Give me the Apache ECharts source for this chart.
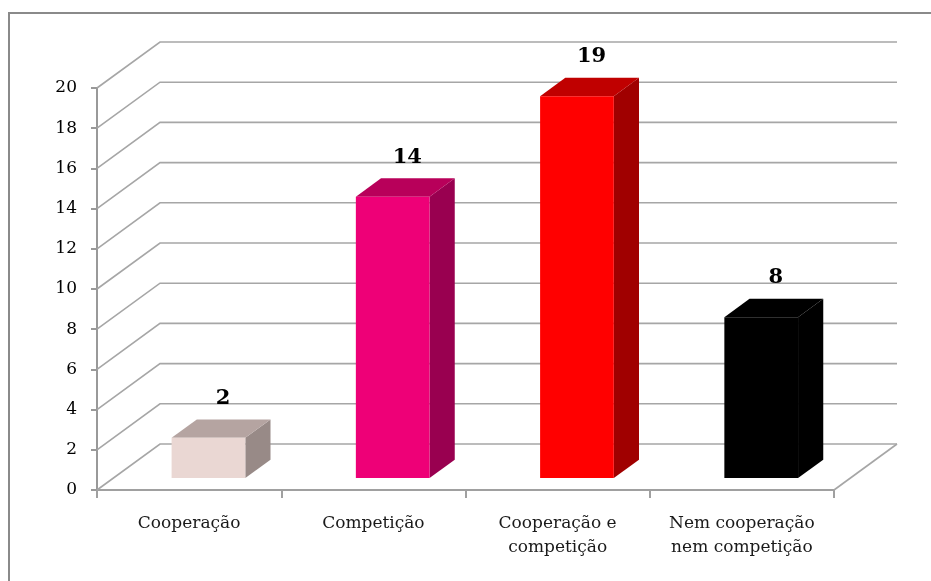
<!DOCTYPE html>
<html>
<head>
<meta charset="utf-8">
<script src="https://cdn.jsdelivr.net/npm/echarts@6/dist/echarts.min.js"></script>
<style>
  html, body { margin: 0; padding: 0; background: #ffffff; }
  #chart { width: 931px; height: 581px; }
</style>
</head>
<body>
<div id="chart"></div>
<script>
// Categories and counts
const categories = ['Cooperação', 'Competição', 'Cooperação e\ncompetição', 'Nem cooperação\nnem competição'];
const values = [2, 14, 19, 8];

// Value axis ticks
const yTicks = [0, 2, 4, 6, 8, 10, 12, 14, 16, 18, 20];

// Face colours for each column: front, top, right side
const frontColors = ['#ead7d3', '#ee0077', '#ff0000', '#000000'];
const topColors = ['#b5a4a1', '#b8005a', '#c00000', '#000000'];
const sideColors = ['#988a87', '#990050', '#a00000', '#000000'];

// Oblique depth vector of the 3D box (pixels) and the depth span of the columns
const DX = 63, DY = -46;
const F1 = 0.26, F2 = 0.66;
const GRID_COLOR = '#a6a6a6';
const FONT = '"DejaVu Serif", "Liberation Serif", serif';

const chart = echarts.init(document.getElementById('chart'), null, { renderer: 'canvas' });

// Back wall lines plus the diagonal joining each one to the front axis
function renderWall(params, api) {
  const cs = params.coordSys;
  const v = api.value(1);
  const y = api.coord([0, v])[1];
  const L = cs.x, R = cs.x + cs.width;
  const children = [{
    type: 'polyline',
    shape: { points: [[L, y], [L + DX, y + DY], [R + DX, y + DY]] },
    style: { stroke: GRID_COLOR, lineWidth: 1.6, fill: null }
  }];
  if (v === yTicks[0]) {
    children.push({
      type: 'line',
      shape: { x1: R, y1: y, x2: R + DX, y2: y + DY },
      style: { stroke: GRID_COLOR, lineWidth: 1.6 }
    });
  }
  return { type: 'group', children };
}

// One 3D column: front face, top face, right face and its value label
function renderColumn(params, api) {
  const idx = api.value(0);
  const v = api.value(1);
  const base = api.coord([idx, 0]);
  const top = api.coord([idx, v]);
  const band = api.size([1, 0])[0];
  const w = band * 0.4;
  const cx = base[0] + band * 0.016;
  const fx = DX * F1, fy = DY * F1;
  const bx = DX * (F2 - F1), by = DY * (F2 - F1);
  const x0 = cx - w / 2 + fx, x1 = cx + w / 2 + fx;
  const yb = base[1] + fy, yt = top[1] + fy;
  const i = params.dataIndex;
  return {
    type: 'group',
    children: [
      {
        type: 'polygon',
        shape: { points: [[x1, yt], [x1 + bx, yt + by], [x1 + bx, yb + by], [x1, yb]] },
        style: { fill: sideColors[i] }
      },
      {
        type: 'polygon',
        shape: { points: [[x0, yt], [x1, yt], [x1 + bx, yt + by], [x0 + bx, yt + by]] },
        style: { fill: topColors[i] }
      },
      {
        type: 'rect',
        shape: { x: x0, y: yt, width: w, height: yb - yt },
        style: { fill: frontColors[i] }
      },
      {
        type: 'text',
        style: {
          text: String(v),
          x: (x0 + x1) / 2 + bx / 2 + 2,
          y: yt + by - 21,
          align: 'center',
          verticalAlign: 'middle',
          font: 'bold 21px ' + FONT,
          fill: '#000000'
        }
      }
    ]
  };
}

chart.setOption({
  animation: false,
  backgroundColor: '#ffffff',
  graphic: [{
    type: 'rect',
    shape: { x: 9, y: 13, width: 940, height: 600 },
    style: { fill: null, stroke: '#8a8a8a', lineWidth: 2 },
    z: 0
  }],
  grid: { left: 97, right: 97, top: 88, bottom: 91 },
  xAxis: {
    type: 'category',
    data: categories,
    axisLine: { lineStyle: { color: '#a0a0a0', width: 2 } },
    axisTick: { show: true, length: 8, lineStyle: { color: '#a0a0a0', width: 2 } },
    axisLabel: {
      margin: 22,
      fontFamily: FONT,
      fontSize: 17,
      lineHeight: 24,
      color: '#1a1a1a',
      interval: 0
    },
    splitLine: { show: false }
  },
  yAxis: {
    type: 'value',
    min: yTicks[0],
    max: yTicks[yTicks.length - 1],
    interval: yTicks[1] - yTicks[0],
    axisLine: { show: true, lineStyle: { color: '#999999', width: 2 } },
    axisTick: { show: true, length: 6, lineStyle: { color: '#999999', width: 2 } },
    axisLabel: { margin: 20, fontFamily: FONT, fontSize: 17, color: '#000000' },
    splitLine: { show: false }
  },
  series: [
    {
      type: 'custom',
      name: 'wall',
      renderItem: renderWall,
      data: yTicks.map(v => [0, v]),
      encode: { x: 0, y: 1 },
      clip: false,
      silent: true,
      z: 1
    },
    {
      type: 'custom',
      name: 'columns',
      renderItem: renderColumn,
      data: values.map((v, i) => [i, v]),
      encode: { x: 0, y: 1 },
      clip: false,
      z: 3
    }
  ]
});
</script>
</body>
</html>
